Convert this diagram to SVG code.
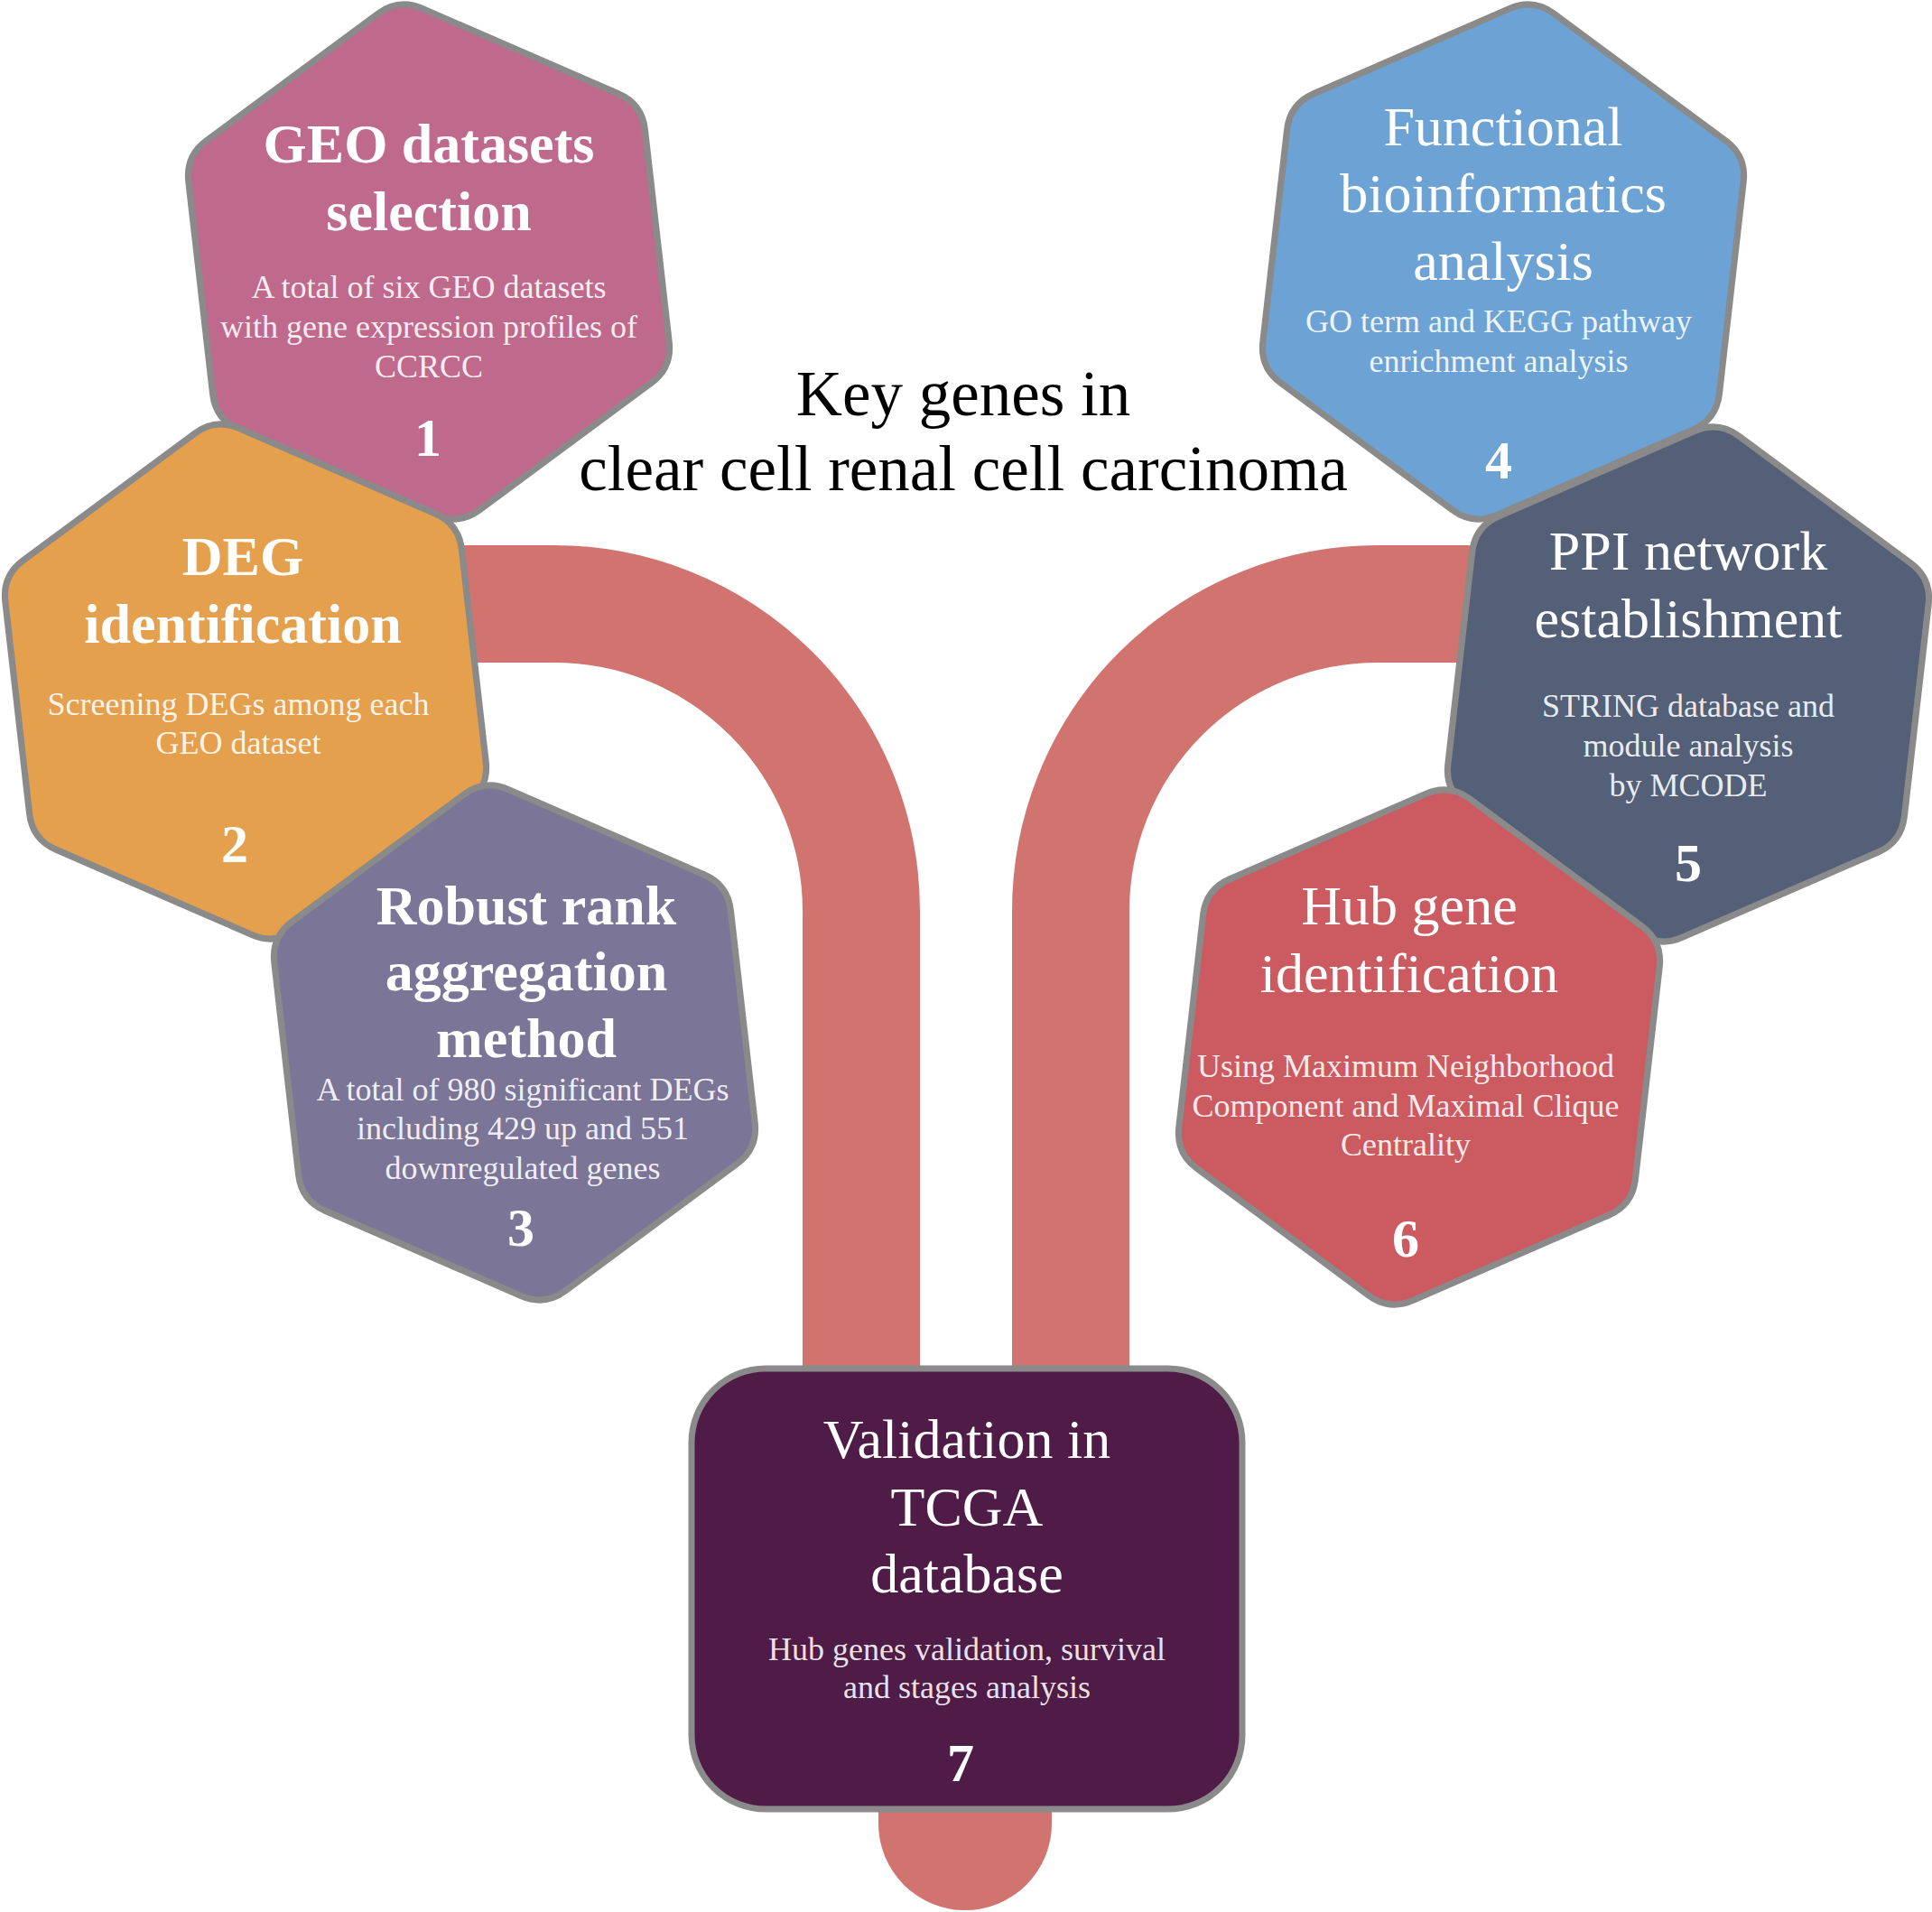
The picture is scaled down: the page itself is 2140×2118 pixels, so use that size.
<svg xmlns="http://www.w3.org/2000/svg" xmlns:xlink="http://www.w3.org/1999/xlink" width="2140" height="2118" viewBox="0 0 2140 2118">
<style>
.hex{stroke:#8a8a8a;stroke-width:7;stroke-linejoin:round}
.box{stroke:#8a8a8a;stroke-width:7}
.band{fill:none;stroke:#D17470;stroke-width:130}
text{font-family:"Liberation Serif","Times New Roman",serif;text-anchor:middle;fill:#ffffff}
.hb{font-size:62px;font-weight:bold}
.hr{font-size:62px}
.sub{font-size:36px;fill-opacity:0.9}
.num{font-size:60px;font-weight:bold}
.title{font-size:71px;fill:#000000}
</style>
<defs>
<path id="hex" d="M 24.25,-274 L 225.17,-158 Q 249.42,-144 249.42,-116 L 249.42,116 Q 249.42,144 225.17,158 L 24.25,274 Q 0,288 -24.25,274 L -225.17,158 Q -249.42,144 -249.42,116 L -249.42,-116 Q -249.42,-144 -225.17,-158 L -24.25,-274 Q 0,-288 24.25,-274 Z"/>
</defs>
<rect width="2140" height="2118" fill="#ffffff"/>
<g id="connectors">
<path class="band" d="M 450,669 H 614 A 340,340 0 0 1 954,1009 V 1540"/>
<path class="band" d="M 1690,669 H 1526 A 340,340 0 0 0 1186,1009 V 1540"/>
<path d="M 973,1900 V 2020 A 96,96 0 0 0 1165,2020 V 1900 Z" fill="#D17470"/>
</g>
<g id="title">
<text class="title" x="1067" y="460">Key genes in</text>
<text class="title" x="1067" y="543">clear cell renal cell carcinoma</text>
</g>
<g id="n1">
<use xlink:href="#hex" class="hex" fill="#BF6A8D" transform="translate(475,290) rotate(-6.5) scale(1.02)"/>
<text class="hb" x="475" y="180">GEO datasets</text>
<text class="hb" x="475" y="255">selection</text>
<text class="sub" x="475" y="330">A total of six GEO datasets</text>
<text class="sub" x="475" y="374">with gene expression profiles of</text>
<text class="sub" x="475" y="418">CCRCC</text>
<text class="num" x="474" y="505">1</text>
</g>
<g id="n2">
<use xlink:href="#hex" class="hex" fill="#E5A04E" transform="translate(272,755) rotate(-6.5) scale(1.02)"/>
<text class="hb" x="269" y="637">DEG</text>
<text class="hb" x="269" y="712">identification</text>
<text class="sub" x="264" y="792">Screening DEGs among each</text>
<text class="sub" x="264" y="835">GEO dataset</text>
<text class="num" x="260" y="955">2</text>
</g>
<g id="n3">
<use xlink:href="#hex" class="hex" fill="#7B7597" transform="translate(570,1155) rotate(-6.5) scale(1.02)"/>
<text class="hb" x="583" y="1024">Robust rank</text>
<text class="hb" x="583" y="1097">aggregation</text>
<text class="hb" x="583" y="1171">method</text>
<text class="sub" x="579" y="1219">A total of 980 significant DEGs</text>
<text class="sub" x="579" y="1262">including 429 up and 551</text>
<text class="sub" x="579" y="1306">downregulated genes</text>
<text class="num" x="577" y="1380">3</text>
</g>
<g id="n4">
<use xlink:href="#hex" class="hex" fill="#6CA3D4" transform="translate(1665,290) rotate(6.5) scale(1.02)"/>
<text class="hr" x="1665" y="161">Functional</text>
<text class="hr" x="1665" y="235">bioinformatics</text>
<text class="hr" x="1665" y="310">analysis</text>
<text class="sub" x="1660" y="368">GO term and KEGG pathway</text>
<text class="sub" x="1660" y="412">enrichment analysis</text>
<text class="num" x="1660" y="530">4</text>
</g>
<g id="n5">
<use xlink:href="#hex" class="hex" fill="#536078" transform="translate(1870,758) rotate(6.5) scale(1.02)"/>
<text class="hr" x="1870" y="631">PPI network</text>
<text class="hr" x="1870" y="706">establishment</text>
<text class="sub" x="1870" y="794">STRING database and</text>
<text class="sub" x="1870" y="838">module analysis</text>
<text class="sub" x="1870" y="882">by MCODE</text>
<text class="num" x="1870" y="976">5</text>
</g>
<g id="n6">
<use xlink:href="#hex" class="hex" fill="#CC5A61" transform="translate(1572,1160) rotate(6.5) scale(1.02)"/>
<text class="hr" x="1561" y="1024">Hub gene</text>
<text class="hr" x="1561" y="1099">identification</text>
<text class="sub" x="1557" y="1193">Using Maximum Neighborhood</text>
<text class="sub" x="1557" y="1237">Component and Maximal Clique</text>
<text class="sub" x="1557" y="1280">Centrality</text>
<text class="num" x="1557" y="1392">6</text>
</g>
<g id="n7">
<rect class="box" x="766" y="1516" width="610" height="488" rx="82" ry="82" fill="#4E1C47"/>
<text class="hr" x="1071" y="1615">Validation in</text>
<text class="hr" x="1071" y="1690">TCGA</text>
<text class="hr" x="1071" y="1764">database</text>
<text class="sub" x="1071" y="1839">Hub genes validation, survival</text>
<text class="sub" x="1071" y="1881">and stages analysis</text>
<text class="num" x="1064" y="1973">7</text>
</g>
</svg>
